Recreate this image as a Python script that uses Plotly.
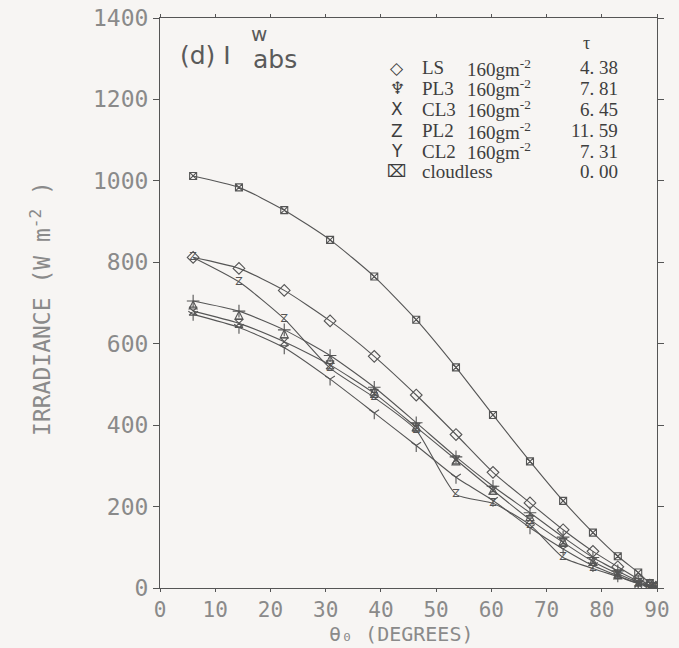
import plotly.graph_objects as go

# ---- data ----
angles = [6.0, 14.3, 22.5, 30.8, 38.8, 46.4, 53.6, 60.3, 67.0, 73.0, 78.4, 82.9, 86.6, 88.7, 89.8]
cloudless = [1012, 984, 928, 855, 765, 659, 542, 425, 311, 214, 136, 78, 38, 12, 3]
ls_160 = [812, 785, 731, 656, 569, 474, 377, 284, 209, 143, 90, 52, 22, 7, 2]
pl3_160 = [705, 680, 634, 571, 493, 406, 322, 250, 185, 125, 75, 42, 17, 5, 1]
cl3_160 = [680, 650, 605, 548, 478, 395, 315, 240, 168, 112, 65, 35, 14, 4, 1]
pl2_160 = [812, 752, 661, 540, 468, 388, 230, 208, 155, 75, 48, 28, 11, 3, 1]
cl2_160 = [672, 640, 590, 513, 430, 350, 272, 215, 148, 96, 55, 30, 11, 3, 1]

legend_codes = ["LS", "PL3", "CL3", "PL2", "CL2", "cloudless"]
legend_lwp = ["160gm<sup>-2</sup>"] * 5 + [""]
legend_glyphs = ["◇", "♆", "Ⅹ", "Z", "Y", "⌧"]
tau_values = ["4. 38", "7. 81", "6. 45", "11. 59", "7. 31", "0. 00"]

x_ticks = list(range(0, 91, 10))
y_ticks = list(range(0, 1401, 200))

LINE = "#555555"
TXT = "#8a8a8a"
LEG = "#3e3e3e"
BG = "#f7f5f3"

fig = go.Figure()

def add_line(y, symbol=None, size=8, text=None):
    if text is None:
        fig.add_trace(go.Scatter(
            x=angles, y=y, mode="lines+markers",
            line=dict(color=LINE, width=1.1, shape="spline", smoothing=0.6),
            marker=dict(symbol=symbol, size=size, color=LINE, line=dict(color=LINE, width=1.1)),
            showlegend=False, hoverinfo="skip"))
    else:
        fig.add_trace(go.Scatter(
            x=angles, y=y, mode="lines+text", text=[text] * len(angles), textposition="middle center",
            textfont=dict(family="DejaVu Sans", size=size, color=LINE),
            line=dict(color=LINE, width=1.1, shape="spline", smoothing=0.6),
            showlegend=False, hoverinfo="skip"))

def add_marks(y, symbol, size):
    fig.add_trace(go.Scatter(
        x=angles, y=y, mode="markers",
        marker=dict(symbol=symbol, size=size, color=LINE, line=dict(color=LINE, width=1.1)),
        showlegend=False, hoverinfo="skip"))

add_line(cloudless, symbol="square-x-open", size=7)
add_line(ls_160, symbol="diamond-open", size=9)
add_line(pl3_160, symbol="arrow-up-open", size=8)
add_marks(pl3_160, "cross-thin-open", 9)
add_line(cl3_160, symbol="hourglass-open", size=8)
add_line(pl2_160, text="Z", size=11)
add_line(cl2_160, symbol="y-down-open", size=8)

fig.update_xaxes(
    range=[0, 90], tickvals=x_ticks, ticktext=[str(v) for v in x_ticks],
    showline=True, linecolor=LINE, linewidth=1.1, mirror="allticks",
    ticks="outside", ticklen=3, tickcolor=LINE, showgrid=False, zeroline=False,
    tickfont=dict(family="DejaVu Sans Mono", size=21, color=TXT), automargin=False,
)
fig.update_yaxes(
    range=[0, 1400], tickvals=y_ticks, ticktext=[str(v) for v in y_ticks],
    showline=True, linecolor=LINE, linewidth=1.1, mirror="allticks",
    ticks="outside", ticklen=6, tickcolor=LINE, showgrid=False, zeroline=False,
    tickfont=dict(family="DejaVu Sans Mono", size=23, color=TXT), automargin=False,
)

ann = []
# axis titles
ann.append(dict(x=0.485, y=-0.08, xref="paper", yref="paper", xanchor="center", yanchor="middle",
                text="θ₀ (DEGREES)", showarrow=False,
                font=dict(family="DejaVu Sans Mono", size=20, color=TXT)))
ann.append(dict(x=-0.241, y=0.49, xref="paper", yref="paper", xanchor="center", yanchor="middle",
                text="IRRADIANCE (W m<sup>-2</sup> )", textangle=-90, showarrow=False,
                font=dict(family="DejaVu Sans Mono", size=23, color=TXT)))
# panel label
ann.append(dict(x=0.036, y=0.935, xref="paper", yref="paper", xanchor="left", yanchor="middle",
                text="(d) I", showarrow=False, font=dict(family="DejaVu Sans", size=25, color="#5a5a5a")))
ann.append(dict(x=0.2, y=0.972, xref="paper", yref="paper", xanchor="center", yanchor="middle",
                text="w", showarrow=False, font=dict(family="DejaVu Sans", size=20, color="#5a5a5a")))
ann.append(dict(x=0.183, y=0.927, xref="paper", yref="paper", xanchor="left", yanchor="middle",
                text="abs", showarrow=False, font=dict(family="DejaVu Sans", size=25, color="#5a5a5a")))
# legend
ann.append(dict(x=0.859, y=0.957, xref="paper", yref="paper", xanchor="center", yanchor="middle",
                text="τ", showarrow=False, font=dict(family="Liberation Serif", size=18, color=LEG)))
rows_y = [0.913, 0.877, 0.840, 0.802, 0.766, 0.731]
for g, c, w, t, yy in zip(legend_glyphs, legend_codes, legend_lwp, tau_values, rows_y):
    ann.append(dict(x=0.477, y=yy, xref="paper", yref="paper", xanchor="center", yanchor="middle",
                    text=g, showarrow=False, font=dict(family="DejaVu Sans", size=17, color=LEG)))
    ann.append(dict(x=0.523, y=yy, xref="paper", yref="paper", xanchor="left", yanchor="middle",
                    text=c, showarrow=False, font=dict(family="Liberation Serif", size=19, color=LEG)))
    if w:
        ann.append(dict(x=0.614, y=yy, xref="paper", yref="paper", xanchor="left", yanchor="middle",
                        text=w, showarrow=False, font=dict(family="Liberation Serif", size=19, color=LEG)))
    ann.append(dict(x=0.926, y=yy, xref="paper", yref="paper", xanchor="right", yanchor="middle",
                    text=t, showarrow=False, font=dict(family="Liberation Serif", size=19, color=LEG)))

fig.update_layout(
    width=679, height=648, autosize=False,
    margin=dict(l=160, r=22, t=18, b=60),
    paper_bgcolor=BG, plot_bgcolor=BG,
    annotations=ann, showlegend=False,
)

fig.write_html("out.html")
